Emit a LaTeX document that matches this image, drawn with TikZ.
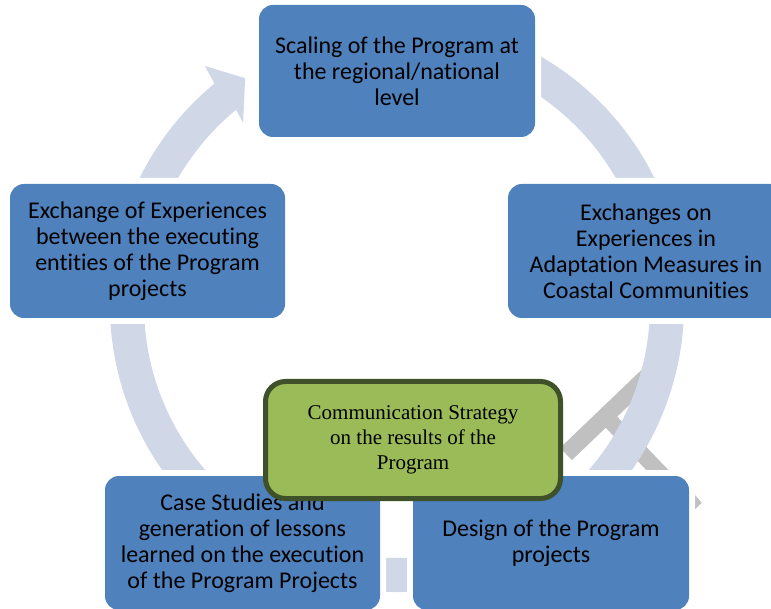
\documentclass[tikz,border=0pt]{standalone}
\usepackage{fontspec}
\setmainfont{Carlito}[Ligatures=NoCommon]
\newfontfamily\timesfont{Liberation Serif}
\usetikzlibrary{calc}
\definecolor{boxblue}{HTML}{4F81BD}
\definecolor{ringc}{HTML}{D0D8E8}
\definecolor{greenfill}{HTML}{9BBB59}
\definecolor{greenedge}{HTML}{3F5128}
\definecolor{greyc}{HTML}{C0C0C0}
\tikzset{
  bluebox/.style={rectangle, rounded corners=14pt, fill=boxblue,
    preaction={draw=white, line width=12pt},
    minimum width=276pt, minimum height=134pt, inner sep=0pt,
    align=center, text=black, font=\fontsize{24}{26}\selectfont},
  greenbox/.style={rectangle, rounded corners=20pt, fill=greenfill,
    draw=greenedge, line width=5pt,
    minimum width=295pt, minimum height=117pt, inner sep=0pt,
    align=center, text=black, font=\timesfont\fontsize{21}{25}\selectfont},
  greyband/.style={draw=greyc, line width=17pt}
}
\begin{document}
\begin{tikzpicture}[x=1pt,y=1pt]
\useasboundingbox (0,0) rectangle (771,-609);
\clip (0,0) rectangle (771,-609);
% grey decoration
\draw[greyband] (566,-454) -- (648,-375.4);
\draw[greyband, line width=16pt] (605.5,-416) -- (665,-478);
\fill[greyc] (695,-495) -- (701.7,-502.7) -- (695,-509.3) -- cycle;
% ring with arrow head
\coordinate (C) at (397,-305);
\fill[ringc] ($(C)+(75:287)$) arc[start angle=75, end angle=-230.5, radius=287]
  -- ($(C)+(-231.2:306.6)$) -- ($(C)+(-236.2:273)$) -- ($(C)+(-229.8:238.4)$)
  -- ($(C)+(-230.5:253)$) arc[start angle=-230.5, end angle=75, radius=253] -- cycle;
% boxes
\node[bluebox, minimum height=132pt] (top) at (397,-71) {Scaling of the Program at\\the regional/national\\level};
\node[bluebox, minimum width=275pt] (left) at (147.5,-251) {Exchange of Experiences\\between the executing\\entities of the Program\\projects};
\node[bluebox] (right) at (646,-251) {Exchanges on\\Experiences in\\Adaptation Measures in\\Coastal Communities};
\node[bluebox, minimum width=275pt] (bl) at (242.5,-543) {Case Studies and\\generation of lessons\\learned on the execution\\of the Program Projects};
\node[bluebox] (br) at (551,-543) {Design of the Program\\projects};
\node[greenbox] (center) at (413,-440) {Communication Strategy\\on the results of the\\Program};
\end{tikzpicture}
\end{document}
